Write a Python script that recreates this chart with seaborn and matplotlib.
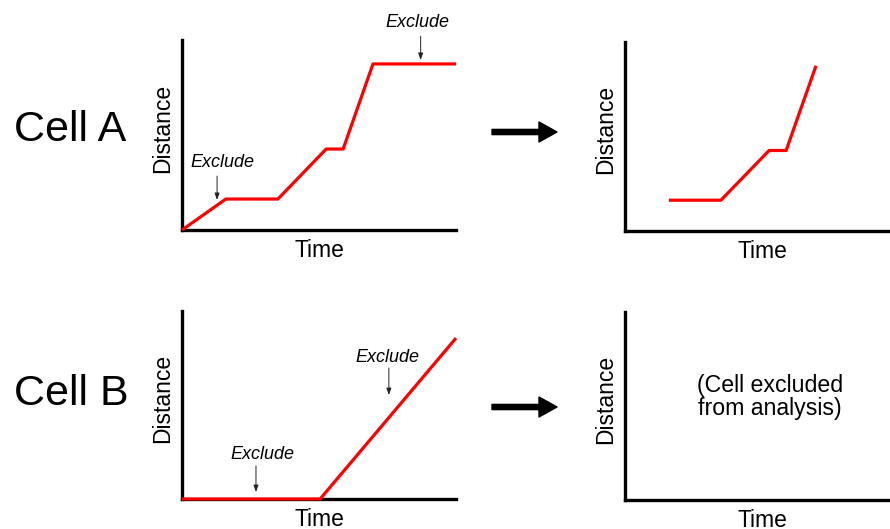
import matplotlib
matplotlib.use("Agg")
import matplotlib.pyplot as plt
import seaborn as sns
import pandas as pd

# data (arbitrary units, 0-100 on both axes)
cell_a_time = [0, 16, 35, 52.6, 58.8, 69.7, 100]
cell_a_dist = [0, 16.3, 16.3, 42.6, 42.6, 87.4, 87.4]
cell_a_kept_time = [16, 35, 52.6, 58.8, 69.7]
cell_a_kept_dist = [16.3, 16.3, 42.6, 42.6, 87.4]
cell_b_time = [0, 50.4, 100]
cell_b_dist = [0, 0, 85.6]

row_labels = ["Cell A", "Cell B"]
excluded_note = "(Cell excluded\nfrom analysis)"

sns.set_style("white")
plt.rcParams["font.family"] = ["Liberation Sans", "DejaVu Sans"]
plt.rcParams["text.color"] = "black"
plt.rcParams["axes.labelcolor"] = "black"

W, H = 890, 529
fig = plt.figure(figsize=(W / 100, H / 100), dpi=100)


def set_labels(ax):
    ax.set_xlabel("Time", fontsize=16.5, labelpad=6.5)
    ax.set_ylabel("Distance", fontsize=16.5, labelpad=6)
    ax.yaxis.label.set_y(0.535)


def add_panel(left, top, width, height):
    # pixel box -> figure fraction
    ax = fig.add_axes([left / W, (H - top - height) / H, width / W, height / H])
    ax.set_xlim(0, 100)
    ax.set_ylim(0, 100)
    ax.set_xticks([])
    ax.set_yticks([])
    for s in ["top", "right"]:
        ax.spines[s].set_visible(False)
    for s in ["left", "bottom"]:
        ax.spines[s].set_linewidth(2.4)
        ax.spines[s].set_color("black")
    set_labels(ax)
    return ax


def red_line(ax, x, y):
    df = pd.DataFrame({"Time": x, "Distance": y})
    sns.lineplot(data=df, x="Time", y="Distance", ax=ax, color="#ff0000",
                 linewidth=2.3, sort=False, estimator=None)
    for ln in ax.lines:
        ln.set_clip_on(False)
        ln.set_zorder(3)
        ln.set_solid_capstyle("butt")
    set_labels(ax)


def exclude(ax, tx, ty, ax_x, y0, y1):
    ax.text(tx, ty, "Exclude", fontsize=13, style="italic",
            ha="center", va="center", clip_on=False)
    ax.annotate("", xy=(ax_x, y1), xytext=(ax_x, y0),
                arrowprops=dict(arrowstyle="-|>,head_length=0.5,head_width=0.18",
                                lw=0.7, color="#222222", shrinkA=0, shrinkB=0,
                                mutation_scale=8),
                annotation_clip=False)


# Cell A - raw
ax1 = add_panel(182, 40, 274, 190)
red_line(ax1, cell_a_time, cell_a_dist)
exclude(ax1, 86.1, 109, 87.1, 102, 89.5)
exclude(ax1, 14.6, 35.3, 12.8, 28.4, 15.8)

# Cell A - kept
ax2 = add_panel(625, 42, 274, 189)
red_line(ax2, cell_a_kept_time, cell_a_kept_dist)

# Cell B - raw
ax3 = add_panel(182, 311, 274, 188)
red_line(ax3, cell_b_time, cell_b_dist)
exclude(ax3, 74.8, 75, 75.5, 69.7, 55.3)
exclude(ax3, 29.2, 23.9, 27, 17.6, 3.7)

# Cell B - kept (nothing)
ax4 = add_panel(625, 312, 274, 188)
ax4.text(52.9, 55, excluded_note, fontsize=16.7, ha="center", va="center",
         linespacing=1.0)

# row labels
fig.text(70 / W, 1 - 130 / H, row_labels[0], fontsize=31, ha="center", va="center")
fig.text(71 / W, 1 - 394 / H, row_labels[1], fontsize=31, ha="center", va="center")

# big arrows between panels
for yc in [132, 407]:
    fig.add_artist(matplotlib.text.Annotation(
        "", xy=(557, H - yc), xytext=(492, H - yc),
        xycoords="figure pixels", textcoords="figure pixels",
        arrowprops=dict(arrowstyle="simple,head_length=0.9,head_width=1.0,tail_width=0.26",
                        color="black", shrinkA=0, shrinkB=0, mutation_scale=14.4)))

plt.savefig("out.png", dpi=100)
